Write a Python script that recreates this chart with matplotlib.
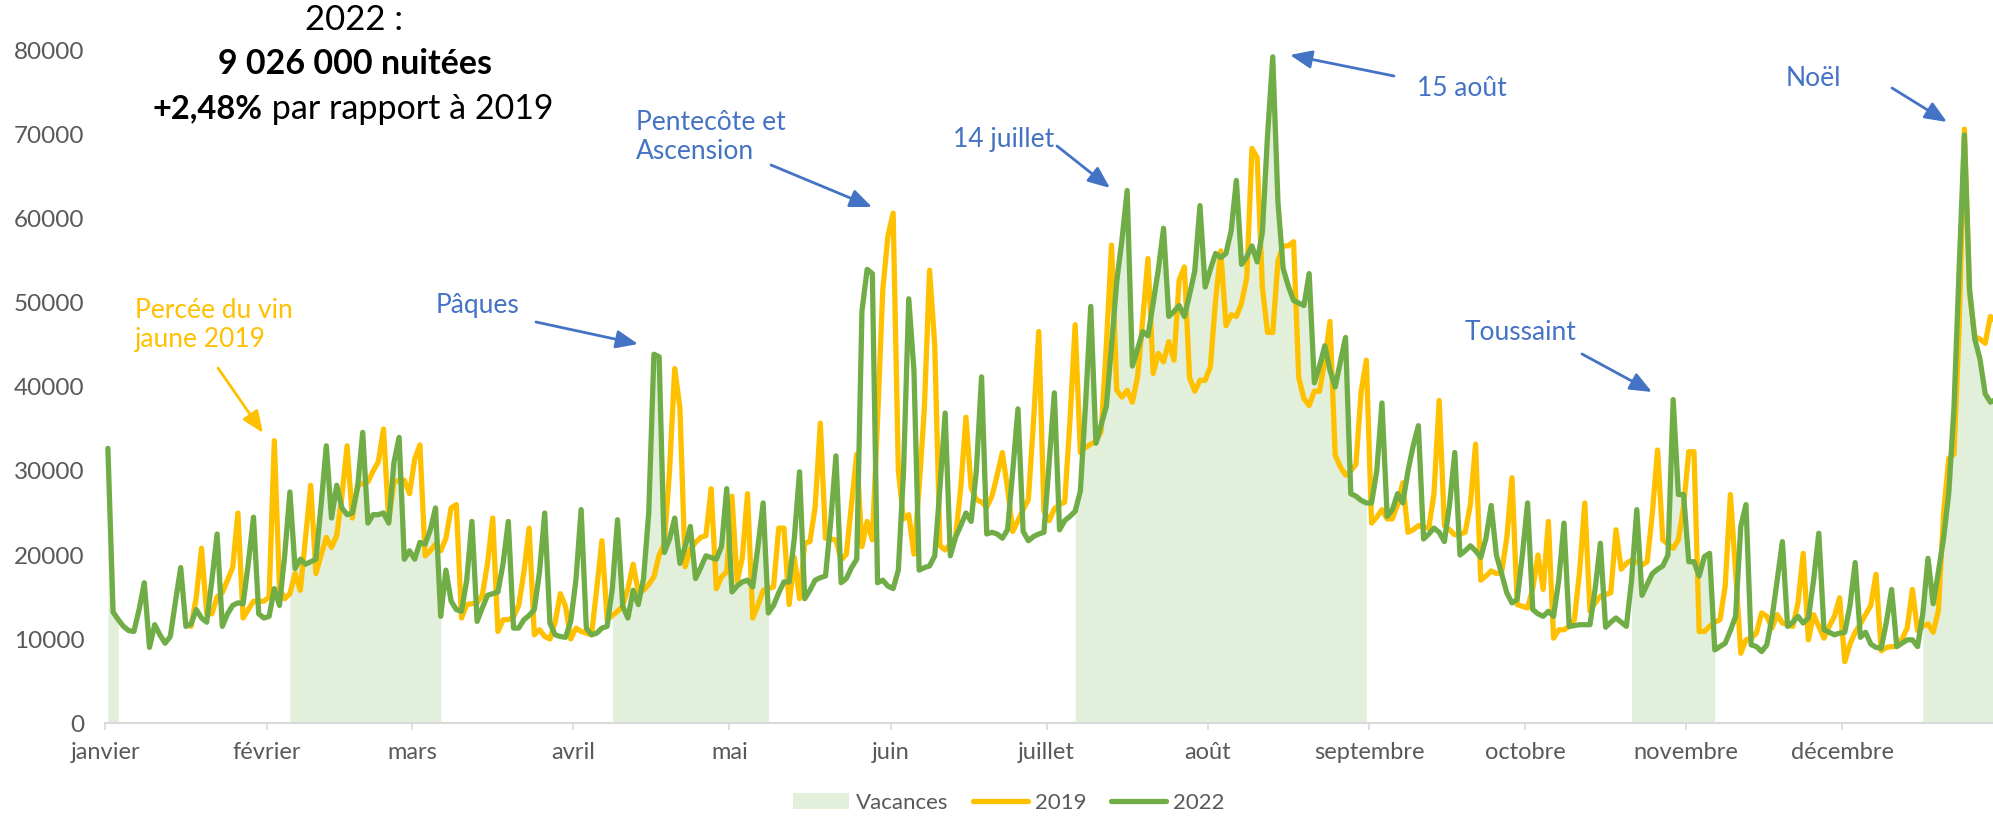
import numpy as np
import matplotlib.pyplot as plt
from matplotlib.lines import Line2D
from matplotlib.patches import Patch

plt.rcParams['font.family'] = ['Lato', 'DejaVu Sans']

# nuitées journalières, 1er janvier -> 31 décembre (une ligne = 7 jours)
nuitees_2019 = [
    None, None, None, None, None, None, None,
    None, None, None, None, None, None, None,
    None, None, 11500, 15000, 20800, 13000, 13000,
    15000, 15500, 17000, 18500, 25000, 12500, 13500,
    14500, 14500, 14500, 15000, 33600, 16000, 14800,
    15400, 17800, 15800, 22000, 28300, 17800, 20000,
    22100, 20900, 22300, 27000, 33000, 24400, 28300,
    28500, 28700, 30000, 31100, 35000, 24000, 28700,
    28900, 28900, 27300, 31400, 33100, 19900, 20500,
    21300, 20500, 22000, 25600, 26000, 12500, 14100,
    14200, 14300, 15200, 19000, 24400, 10900, 12300,
    12300, 12600, 14000, 18000, 23200, 10500, 11100,
    10300, 10000, 12000, 15400, 13900, 10000, 11300,
    10900, 10700, 10500, 16000, 21700, 12300, 12800,
    13300, 13900, 16000, 18900, 15600, 15800, 16500,
    17400, 20000, 21300, 30000, 42200, 37500, 18600,
    20700, 21500, 22100, 22300, 27900, 16000, 17400,
    18000, 27000, 16800, 19700, 27300, 12500, 14000,
    15800, 16000, 16200, 23200, 23200, 14100, 19700,
    14800, 21400, 21600, 25700, 35700, 22000, 21900,
    21800, 19400, 20100, 26000, 32000, 21000, 24000,
    21800, 36000, 51500, 58000, 60700, 30000, 24300,
    24800, 20100, 28000, 37400, 53900, 45000, 21100,
    20600, 21300, 22100, 28000, 36400, 28000, 26600,
    26300, 25700, 27000, 29500, 32200, 27900, 22800,
    24100, 25400, 26600, 36000, 46600, 25200, 24100,
    25500, 26000, 26300, 36000, 47400, 32200, 32800,
    33200, 33500, 34700, 45000, 56900, 39600, 38800,
    39600, 38200, 41200, 48000, 55300, 41600, 44000,
    43000, 45400, 43200, 52700, 54300, 41100, 39500,
    40800, 40800, 42400, 50300, 56200, 47300, 48600,
    48400, 50000, 53000, 68400, 67300, 51900, 46500,
    46500, 55000, 56800, 56800, 57300, 41100, 38600,
    37800, 39500, 39500, 43200, 47800, 31900, 30500,
    29500, 30000, 30800, 39500, 43200, 23800, 24500,
    25400, 24300, 24300, 26000, 28600, 22700, 23000,
    23500, 23300, 23200, 27300, 38400, 23500, 23000,
    22400, 22500, 22700, 26000, 33200, 17000, 17500,
    18100, 17800, 17900, 22000, 29200, 14100, 13900,
    13700, 16000, 20000, 15900, 24000, 10100, 11100,
    11100, 11500, 12300, 18000, 26200, 13300, 14300,
    15100, 15300, 15500, 23000, 18300, 19000, 19400,
    19200, 18800, 19200, 25000, 32500, 21800, 21300,
    20800, 21800, 25800, 32300, 32300, 10900, 10900,
    11500, 12000, 12300, 16300, 27200, 18000, 8300,
    9900, 10100, 10700, 13100, 12700, 11300, 12900,
    11900, 11700, 11500, 14300, 20200, 9900, 12900,
    11500, 10100, 11500, 12700, 14900, 7300, 9400,
    10800, 11800, 12900, 14000, 17700, 8600, 9000,
    9100, 9100, 10000, 11300, 15900, 11000, 11500,
    11800, 10800, 13400, 25000, 31500, 32000, 47300,
    70700, 51100, 46000, 45700, 45200, 48400, 47800,
    47000,
]

nuitees_2022 = [
    32700, 13200, 12300, 11500, 11000, 10900, 13500,
    16700, 9000, 11700, 10500, 9500, 10300, 14500,
    18500, 11500, 11800, 13500, 12500, 12000, 17000,
    22500, 11500, 13000, 14000, 14300, 14200, 19000,
    24500, 13000, 12500, 12700, 16000, 14000, 20000,
    27500, 18400, 19500, 18900, 19200, 19500, 26000,
    33000, 24400, 28300, 25600, 24800, 25000, 28000,
    34600, 23800, 24800, 24800, 25000, 23800, 31000,
    34000, 19500, 20500, 19500, 21500, 21300, 23000,
    25600, 12700, 18200, 14500, 13500, 13300, 17000,
    24000, 12100, 13700, 15200, 15400, 15600, 19000,
    24000, 11300, 11300, 12300, 12800, 13500, 18000,
    25000, 11900, 10500, 10300, 10200, 12100, 17000,
    25400, 11300, 10500, 10700, 11300, 11500, 16000,
    24200, 13900, 12500, 15800, 14100, 17200, 25000,
    43900, 43600, 20300, 21900, 24400, 19000, 21000,
    23400, 17200, 18500, 19900, 19700, 19500, 21000,
    27900, 15600, 16300, 16800, 17000, 16200, 21000,
    26200, 13100, 14000, 15500, 16800, 16800, 22000,
    29900, 14800, 15800, 17000, 17300, 17500, 24000,
    31800, 16700, 17200, 18500, 19500, 49000, 54000,
    53500, 16700, 17000, 16300, 16000, 18200, 30000,
    50500, 42000, 18200, 18500, 18700, 19900, 28000,
    36900, 19900, 22100, 23500, 25000, 24000, 30000,
    41200, 22500, 22700, 22500, 22000, 23000, 30000,
    37400, 22800, 21700, 22200, 22500, 22700, 31000,
    39300, 23000, 24100, 24600, 25200, 27600, 38000,
    49600, 33300, 35500, 37700, 45000, 52600, 57500,
    63400, 42500, 44500, 46600, 46100, 50000, 54000,
    58900, 48400, 49000, 49700, 48400, 51000, 53800,
    61600, 51900, 54000, 55900, 55400, 55900, 58600,
    64600, 54600, 55500, 56800, 54900, 58400, 70000,
    79300, 62000, 54100, 52000, 50300, 50000, 49700,
    53500, 40500, 42500, 44900, 42000, 40000, 43000,
    45900, 27300, 27000, 26500, 26200, 26200, 30000,
    38100, 24600, 25400, 27300, 26200, 30000, 33000,
    35400, 21900, 22500, 23200, 22700, 21600, 26000,
    32200, 20000, 20500, 21100, 20500, 19700, 22000,
    25900, 20000, 17800, 15500, 14300, 14700, 20000,
    26200, 13500, 13000, 12700, 13300, 12700, 17000,
    23800, 11500, 11600, 11700, 11700, 11700, 16000,
    21400, 11400, 12000, 12500, 12000, 11500, 17000,
    25400, 15200, 16500, 17800, 18300, 18700, 20000,
    38500, 27200, 27200, 19200, 19200, 17500, 19800,
    20200, 8700, 9100, 9500, 11000, 12700, 23400,
    26000, 9300, 9100, 8500, 9300, 12500, 17000,
    21600, 11500, 12000, 12700, 11900, 12500, 17000,
    22600, 11100, 10800, 10500, 10700, 10800, 14000,
    19100, 10200, 10800, 9400, 9000, 8900, 12000,
    15900, 9100, 9500, 9900, 9900, 9100, 13000,
    19600, 14200, 18000, 22000, 27400, 37600, 54300,
    70000, 51600, 45700, 43300, 39200, 38200, 38500,
    39000,
]

# périodes de vacances scolaires 2022 (indices de jour, inclus)
vacances = [(0, 2), (35, 64), (97, 127), (186, 242), (293, 309), (349, 364)]

mois = ['janvier', 'février', 'mars', 'avril', 'mai', 'juin', 'juillet',
        'août', 'septembre', 'octobre', 'novembre', 'décembre']
debut_mois = [0, 31, 59, 90, 120, 151, 181, 212, 243, 273, 304, 334]

JAUNE = '#FFC000'
VERT = '#70AD47'
BLEU = '#4472C4'
GRIS = '#595959'

W, H = 1993, 817


def fx(x):
    return x / W


def fy(y):
    return 1 - y / H


y19 = np.array(nuitees_2019, dtype=float)
y22 = np.array(nuitees_2022, dtype=float)
jours = np.arange(len(y22))

fig = plt.figure(figsize=(W / 100, H / 100), dpi=100)
ax = fig.add_axes([fx(105.3), fy(723), 1 - fx(105.3), (723 - 51) / H])

for a, b in vacances:
    ax.fill_between(jours[a:b + 1], 0, y22[a:b + 1], color='#E2EFDA', lw=0, zorder=1)

ax.plot(jours, y19, color=JAUNE, lw=3.8, solid_joinstyle='round', solid_capstyle='round', zorder=2)
ax.plot(jours, y22, color=VERT, lw=3.8, solid_joinstyle='round', solid_capstyle='round', zorder=3)

ax.set_xlim(-0.5, 362.5)
ax.set_ylim(0, 80000)
ax.set_yticks(np.arange(0, 80001, 10000))
ax.tick_params(axis='y', length=0, pad=15, labelsize=17.5, labelcolor=GRIS)
ax.set_xticks([d - 0.5 for d in debut_mois])
ax.set_xticklabels(mois)
ax.tick_params(axis='x', length=5, width=1.2, color='#D9D9D9', pad=9,
               labelsize=17, labelcolor=GRIS)
for s in ['top', 'right', 'left']:
    ax.spines[s].set_visible(False)
ax.spines['bottom'].set_color('#D9D9D9')
ax.spines['bottom'].set_linewidth(1.5)

# bloc de texte en haut à gauche
fig.text(fx(354), fy(20), '2022 :', ha='center', va='center', fontsize=25)
fig.text(fx(355), fy(64), '9 026 000 nuitées', ha='center', va='center',
         fontsize=24.5, fontweight='bold')
t1 = fig.text(fx(153), fy(109), '+2,48%', ha='left', va='center',
              fontsize=23.5, fontweight='bold')
ax.annotate(' par rapport à 2019', xy=(1, 0.5), xycoords=t1, va='center',
            ha='left', fontsize=24.5, annotation_clip=False)


def fleche(texte, xy_txt, debut, fin, couleur, ha='left'):
    fig.text(fx(xy_txt[0]), fy(xy_txt[1]), texte, ha=ha, va='center',
             fontsize=19, color=couleur, linespacing=1.2)
    ax.annotate('', xy=(fx(fin[0]), fy(fin[1])), xycoords='figure fraction',
                xytext=(fx(debut[0]), fy(debut[1])), textcoords='figure fraction',
                arrowprops=dict(arrowstyle='-|>,head_length=0.6,head_width=0.25',
                                color=couleur, lw=2, mutation_scale=22,
                                shrinkA=0, shrinkB=0),
                annotation_clip=False)


fleche('Percée du vin\njaune 2019', (135, 325), (218, 368), (263, 433), JAUNE)
fleche('Pâques', (436, 305), (536, 322), (638, 344), BLEU)
fleche('Pentecôte et\nAscension', (636, 137), (771, 165), (872, 207), BLEU)
fleche('14 juillet', (953, 140), (1057, 146), (1110, 188), BLEU)
fleche('15 août', (1417, 89), (1394, 76), (1290, 55), BLEU)
fleche('Noël', (1786, 79), (1892, 88), (1947, 122), BLEU)
fleche('Toussaint', (1465, 332), (1582, 354), (1652, 392), BLEU)

handles = [Patch(facecolor='#E2EFDA', edgecolor='none'),
           Line2D([], [], color=JAUNE, lw=3.8, solid_capstyle='round'),
           Line2D([], [], color=VERT, lw=3.8, solid_capstyle='round')]
fig.legend(handles, ['Vacances', '2019', '2022'], loc='center',
           bbox_to_anchor=(fx(1009), fy(803)), ncol=3, frameon=False,
           fontsize=16, labelcolor=GRIS, handlelength=2.5, handletextpad=0.3,
           columnspacing=1.1)

fig.savefig('out.png', dpi=100)
